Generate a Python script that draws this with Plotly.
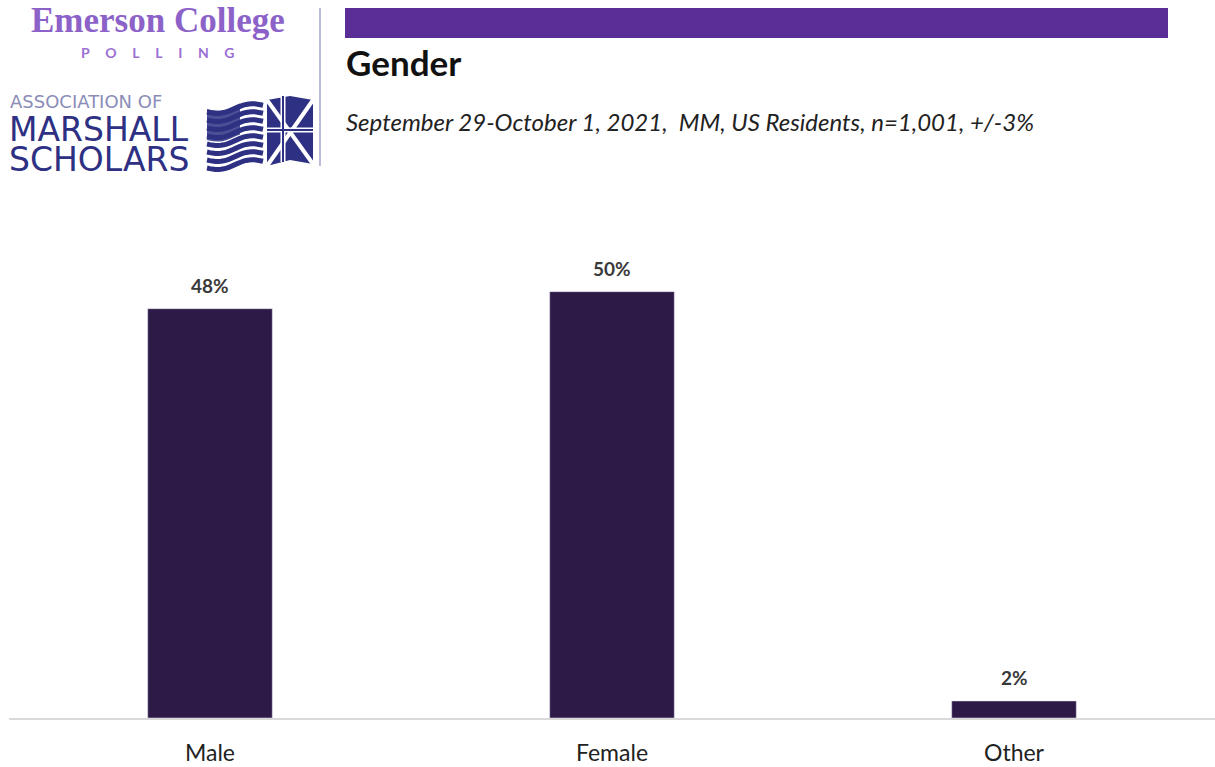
import math
import plotly.graph_objects as go

categories = ["Male", "Female", "Other"]
values = [48, 50, 2]
value_labels = ["48%", "50%", "2%"]

title_text = "Gender"
subtitle_text = "September 29-October 1, 2021,  MM, US Residents, n=1,001, +/-3%"

W, H = 1215, 767
L, R, T, B = 9, 0, 249, 49
PW = W - L - R
PH = H - T - B


def px(x, y):
    """page pixel -> paper coords"""
    return (x - L) / PW, (H - B - y) / PH


BAR_COLOR = "#2E1A47"
fig = go.Figure()
fig.add_trace(go.Bar(
    x=categories, y=values, marker_color=BAR_COLOR, width=0.31,
    hoverinfo="skip", showlegend=False,
))

for c, v, t in zip(categories, values, value_labels):
    fig.add_annotation(x=c, y=v, xref="x", yref="y", text="<b>" + t + "</b>",
                       showarrow=False, yanchor="bottom", yshift=10,
                       font=dict(family="Lato", size=19, color="#3A3A3A"))

shapes = []
x0, y0 = px(345, 38)
x1, y1 = px(1168, 8)
shapes.append(dict(type="rect", xref="paper", yref="paper", x0=x0, y0=y0, x1=x1, y1=y1,
                   fillcolor="#5B2D96", line=dict(width=0), layer="above"))
a0, b0 = px(320, 8)
a1, b1 = px(320, 166)
shapes.append(dict(type="line", xref="paper", yref="paper", x0=a0, y0=b0, x1=a1, y1=b1,
                   line=dict(color="#B8BCD6", width=2)))


def path_from(points, close=True):
    s = ""
    for i, (x, y) in enumerate(points):
        u, v = px(x, y)
        s += ("M" if i == 0 else "L") + f"{u:.5f},{v:.5f} "
    if close:
        s += "Z"
    return s


NAVY = "#2E3083"
for k in range(8):
    pts = []
    for i in range(21):
        x = 207 + i * (263 - 207) / 20
        base = 112 + k * 8 - (x - 207) * 0.12
        y = base + 3 * math.sin((x - 207) / 56 * 2 * math.pi)
        pts.append((x, y))
    shapes.append(dict(type="path", xref="paper", yref="paper", path=path_from(pts, close=False),
                       line=dict(color=NAVY, width=5)))
canton = []
for i in range(11):
    x = 207 + i * (240 - 207) / 10
    canton.append((x, 109 - (x - 207) * 0.12 + 3 * math.sin((x - 207) / 56 * 2 * math.pi)))
for i in range(10, -1, -1):
    x = 207 + i * (240 - 207) / 10
    canton.append((x, 140 - (x - 207) * 0.12 + 3 * math.sin((x - 207) / 56 * 2 * math.pi)))
shapes.append(dict(type="path", xref="paper", yref="paper", path=path_from(canton),
                   fillcolor=NAVY, line=dict(width=0), opacity=0.85))
uk = [(267, 100), (290, 96), (313, 100), (313, 164), (290, 160), (267, 166)]
shapes.append(dict(type="path", xref="paper", yref="paper", path=path_from(uk),
                   fillcolor=NAVY, line=dict(width=0)))
for (xa, ya, xb, yb, w) in [(267, 100, 313, 164, 4), (313, 100, 267, 166, 4),
                             (283, 96, 283, 162, 5), (267, 130, 313, 130, 5)]:
    ua, va = px(xa, ya)
    ub, vb = px(xb, yb)
    shapes.append(dict(type="line", xref="paper", yref="paper", x0=ua, y0=va, x1=ub, y1=vb,
                       line=dict(color="white", width=w)))
for (xa, ya, xb, yb) in [(283, 96, 283, 162), (267, 130, 313, 130)]:
    ua, va = px(xa, ya)
    ub, vb = px(xb, yb)
    shapes.append(dict(type="line", xref="paper", yref="paper", x0=ua, y0=va, x1=ub, y1=vb,
                       line=dict(color=NAVY, width=2)))


def text_ann(x, y, text, size, color, family, xanchor="left", yanchor="middle"):
    u, v = px(x, y)
    fig.add_annotation(xref="paper", yref="paper", x=u, y=v, text=text, showarrow=False,
                       xanchor=xanchor, yanchor=yanchor, align="left",
                       font=dict(family=family, size=size, color=color))


text_ann(158, 21, "<b>Emerson College</b>", 35, "#8C62C9", "Liberation Serif", xanchor="center")
gap = "\u2003\u00a0\u2009"
text_ann(158, 53, "<b>" + gap.join(list("POLLING")) + "</b>", 14, "#9B6FD3", "Lato", xanchor="center")
text_ann(8, 101, "ASSOCIATION OF", 18, "#8A8DB8", "DejaVu Sans")
text_ann(7, 144, "<span style='font-size:33px'>MARSHALL</span><br>"
                 "<span style='font-size:33px'>SCHOLARS</span>", 23, NAVY, "DejaVu Sans")

text_ann(344, 62, "<b>" + title_text + "</b>", 35, "#111111", "Lato")
text_ann(344, 121, "<i>" + subtitle_text + "</i>", 24, "#222222", "Lato")

fig.update_layout(
    width=W, height=H,
    margin=dict(l=L, r=R, t=T, b=B),
    paper_bgcolor="white", plot_bgcolor="white",
    shapes=shapes,
    xaxis=dict(range=[-0.5, 2.5], showgrid=False, showline=True, linecolor="#D9D9D9",
               linewidth=1.5, ticks="", ticklabelstandoff=14,
               tickfont=dict(family="Lato", size=23, color="#222222")),
    yaxis=dict(range=[0, 55], showgrid=False, showticklabels=False, zeroline=False,
               showline=False),
    bargap=0.69,
)

fig.write_html("out.html", config={"displayModeBar": False},
               post_script="document.body.style.margin='0';")
